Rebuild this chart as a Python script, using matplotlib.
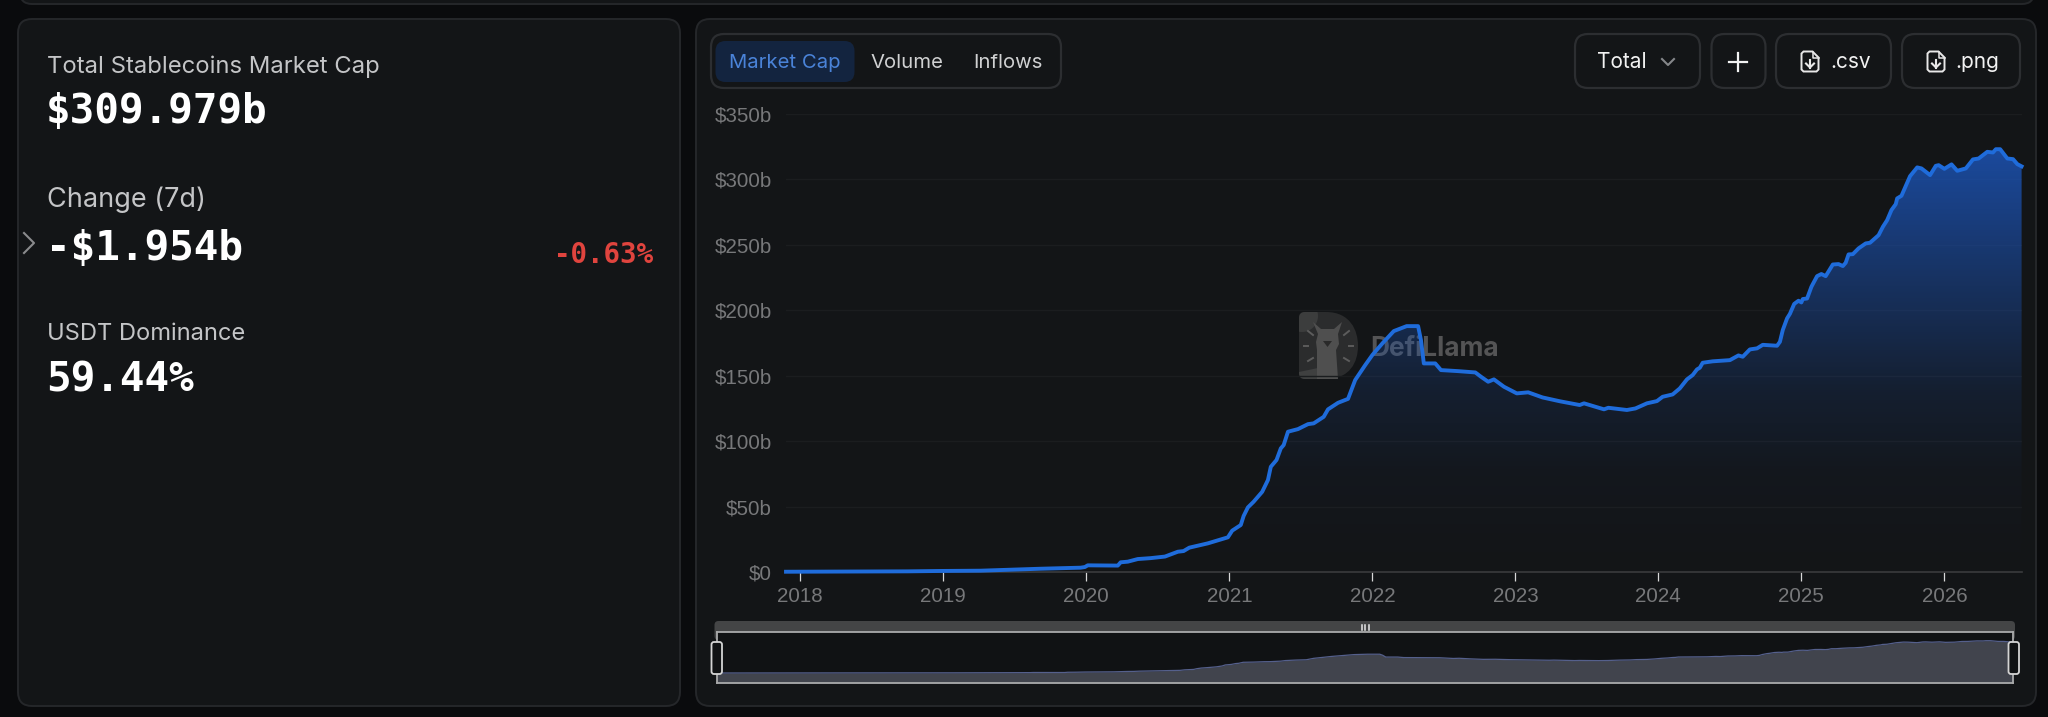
import numpy as np
import matplotlib
matplotlib.use("Agg")
import matplotlib.pyplot as plt
from matplotlib.patches import Circle, FancyBboxPatch, PathPatch, Polygon
from matplotlib.path import Path

# total stablecoin market cap (decimal year, $b)
years = [2017.90, 2018.75, 2018.99, 2019.26, 2019.49, 2019.68, 2019.96, 2019.99, 2020.01, 2020.22,
         2020.24, 2020.29, 2020.36, 2020.45, 2020.55, 2020.64, 2020.68, 2020.72, 2020.85, 2020.92,
         2020.99, 2021.02, 2021.08, 2021.10, 2021.13, 2021.17, 2021.23, 2021.27, 2021.29, 2021.33,
         2021.36, 2021.38, 2021.41, 2021.48, 2021.55, 2021.59, 2021.66, 2021.69, 2021.76, 2021.83,
         2021.88, 2021.95, 2022.00, 2022.07, 2022.15, 2022.24, 2022.32, 2022.34, 2022.36, 2022.44,
         2022.48, 2022.60, 2022.72, 2022.76, 2022.81, 2022.85, 2022.92, 2023.01, 2023.09, 2023.19,
         2023.31, 2023.45, 2023.48, 2023.62, 2023.65, 2023.78, 2023.84, 2023.92, 2023.99, 2024.03,
         2024.10, 2024.15, 2024.20, 2024.24, 2024.27, 2024.29, 2024.31, 2024.38, 2024.50, 2024.56,
         2024.59, 2024.64, 2024.69, 2024.73, 2024.83, 2024.85, 2024.87, 2024.90, 2024.92, 2024.95,
         2024.98, 2025.00, 2025.01, 2025.04, 2025.07, 2025.08, 2025.11, 2025.14, 2025.17, 2025.22,
         2025.26, 2025.29, 2025.31, 2025.33, 2025.36, 2025.40, 2025.45, 2025.48, 2025.54, 2025.57,
         2025.60, 2025.63, 2025.66, 2025.67, 2025.70, 2025.76, 2025.81, 2025.84, 2025.90, 2025.94,
         2025.96, 2026.00, 2026.05, 2026.09, 2026.15, 2026.20, 2026.24, 2026.30, 2026.34, 2026.36,
         2026.39, 2026.44, 2026.48, 2026.51, 2026.54]
mcap = [0.2, 0.5, 0.8, 1.0, 1.8, 2.5, 3.3, 3.8, 5.1, 4.9,
        7.4, 7.9, 9.9, 10.6, 11.8, 15.5, 16.0, 18.6, 21.9, 24.2,
        26.5, 31.6, 35.9, 42.8, 49.4, 53.7, 61.3, 70.3, 80.4, 85.6,
        94.5, 97.0, 107.2, 109.2, 113.0, 113.6, 118.6, 124.3, 129.3, 132.3,
        146.7, 158.1, 165.8, 174.7, 184.1, 187.9, 187.9, 177.2, 159.4, 159.4,
        154.3, 153.5, 152.5, 149.2, 145.4, 147.2, 141.6, 136.5, 137.3, 133.4,
        130.5, 127.6, 128.9, 124.3, 125.5, 123.8, 125.0, 128.9, 130.6, 133.9,
        135.7, 140.3, 147.2, 150.5, 154.8, 156.1, 159.9, 161.0, 161.9, 165.5,
        164.5, 170.1, 170.9, 173.6, 172.9, 175.9, 184.9, 193.8, 197.3, 204.9,
        207.3, 206.0, 208.6, 209.0, 217.9, 220.0, 226.1, 227.7, 226.1, 235.0,
        235.3, 233.8, 236.3, 242.7, 242.9, 247.3, 251.1, 251.6, 257.4, 263.8,
        268.9, 276.6, 281.1, 285.5, 287.5, 302.5, 309.2, 308.4, 303.3, 310.4,
        310.9, 308.1, 311.5, 306.6, 308.4, 315.3, 316.0, 321.1, 320.6, 323.1,
        323.1, 316.0, 315.5, 311.7, 309.979]

y_ticks = [0, 50, 100, 150, 200, 250, 300, 350]
y_labels = ["$0", "$50b", "$100b", "$150b", "$200b", "$250b", "$300b", "$350b"]
x_ticks = [2018, 2019, 2020, 2021, 2022, 2023, 2024, 2025, 2026]
x_labels = ["2018", "2019", "2020", "2021", "2022", "2023", "2024", "2025", "2026"]

W, H = 2048, 717
BG = "#0a0b0d"
PANEL = "#131517"
EDGE = "#25272a"
BLUE = "#1f6cdb"
UI = "Inter"
MONO = "DejaVu Sans Mono"
TICK = "Liberation Sans"


def rect_axes(x0, y0, x1, y1, **kw):
    # axes placed by pixel box, y measured from the top of the picture
    return fig.add_axes([x0 / W, 1 - y1 / H, (x1 - x0) / W, (y1 - y0) / H], **kw)


def box(x0, y0, x1, y1, r, fc="none", ec=EDGE, lw=1.4, z=2):
    p = FancyBboxPatch((x0 + r, y0 + r), x1 - x0 - 2 * r, y1 - y0 - 2 * r,
                       boxstyle=f"round,pad={r},rounding_size={r}",
                       fc=fc, ec=ec, lw=lw, zorder=z)
    back.add_patch(p)


def file_icon(cx):
    # little page with a down arrow, for the export buttons
    l, r, t, b = cx - 8.5, cx + 8.5, 51.5, 71.5
    verts = [(l + 2, t), (r - 6, t), (r, t + 6), (r, b - 2), (r - 2, b), (l + 2, b), (l, b - 2), (l, t + 2), (l + 2, t)]
    back.add_patch(Polygon(verts, closed=True, fc="none", ec="#e8e8e8", lw=1.4, zorder=3))
    back.plot([r - 6, r - 6, r], [t, t + 6, t + 6], color="#e8e8e8", lw=1.1, zorder=3)
    back.plot([cx, cx], [t + 8, b - 4], color="#e8e8e8", lw=1.5, zorder=3)
    back.plot([cx - 4, cx, cx + 4], [b - 8, b - 4, b - 8], color="#e8e8e8", lw=1.5, zorder=3)


fig = plt.figure(figsize=(W / 100, H / 100), dpi=100, facecolor=BG)

# page furniture lives in a full-figure axes measured in pixels
back = fig.add_axes([0, 0, 1, 1], zorder=0)
back.set_xlim(0, W)
back.set_ylim(H, 0)
back.axis("off")

box(20, -30, 2034, 4, 12, fc=PANEL)
box(18, 19, 680, 706, 14, fc=PANEL)
box(696, 19, 2036, 706, 14, fc=PANEL)

# left panel
label_col = "#c4c5c7"
back.text(47, 73, "Total Stablecoins Market Cap", family=UI, fontsize=17.15, color=label_col, va="baseline")
back.text(46, 123, "$309.979b", family=MONO, weight="bold", fontsize=29.5, color="white", va="baseline")
back.text(47, 207, "Change (7d)", family=UI, fontsize=19.5, color=label_col, va="baseline")
back.text(46, 260, "-$1.954b", family=MONO, weight="bold", fontsize=29.5, color="white", va="baseline")
back.text(653, 263, "-0.63%", family=MONO, weight="bold", fontsize=19.8, color="#e0443e", va="baseline", ha="right")
back.text(47, 340, "USDT Dominance", family=UI, fontsize=17.05, color=label_col, va="baseline")
back.text(46, 391, "59.44%", family=MONO, weight="bold", fontsize=29.5, color="white", va="baseline")
back.plot([24, 34, 24], [233, 243, 253], color="#8a8b8d", lw=1.5, zorder=3)

# tab group
box(711, 34, 1061, 88, 13, fc=PANEL, ec="#2c2e31", lw=1.6)
box(715.5, 41, 854.5, 82, 10, fc="#13243f", ec="none", lw=0)
back.text(785, 68, "Market Cap", family=UI, fontsize=14.6, color="#4a83d8", ha="center", va="baseline", zorder=4)
back.text(907, 68, "Volume", family=UI, fontsize=14.6, color="#d0d1d2", ha="center", va="baseline", zorder=4)
back.text(1008, 68, "Inflows", family=UI, fontsize=14.6, color="#d0d1d2", ha="center", va="baseline", zorder=4)

# buttons on the right
box(1575, 34, 1700, 88, 13, fc=PANEL, ec="#2c2e31", lw=1.6)
box(1711.5, 34, 1765.5, 88, 13, fc=PANEL, ec="#2c2e31", lw=1.6)
box(1776, 34, 1891, 88, 13, fc=PANEL, ec="#2c2e31", lw=1.6)
box(1902, 34, 2020, 88, 13, fc=PANEL, ec="#2c2e31", lw=1.6)
back.text(1597, 68, "Total", family=UI, fontsize=15, color="#f2f2f2", va="baseline", zorder=4)
back.plot([1662, 1668, 1674], [59, 65, 59], color="#85878a", lw=1.5, zorder=4)
back.plot([1729, 1747], [61.5, 61.5], color="#f2f2f2", lw=1.6, zorder=4)
back.plot([1738, 1738], [52.5, 70.5], color="#f2f2f2", lw=1.6, zorder=4)
file_icon(1810)
back.text(1830, 68, ".csv", family=UI, fontsize=15, color="#f2f2f2", va="baseline", zorder=4)
file_icon(1936)
back.text(1955, 68, ".png", family=UI, fontsize=15, color="#f2f2f2", va="baseline", zorder=4)

# watermark sits under the chart
d_shape = PathPatch(Path([(1305, 312), (1326, 312), (1350, 312), (1358, 330), (1358, 346), (1358, 362), (1350, 379),
                          (1326, 379), (1305, 379), (1299, 379), (1299, 373), (1299, 318), (1299, 312), (1305, 312)],
                         [Path.MOVETO, Path.LINETO, Path.CURVE4, Path.CURVE4, Path.CURVE4, Path.CURVE4, Path.CURVE4,
                          Path.CURVE4, Path.LINETO, Path.CURVE3, Path.CURVE3, Path.LINETO, Path.CURVE3, Path.CURVE3]),
                    fc="#2b2c2d", ec="none", zorder=2)
back.add_patch(d_shape)
corner = Circle((1302, 316), 16, fc="#3c3d3d", ec="none", zorder=2)
back.add_patch(corner)
corner.set_clip_path(d_shape)
band = Polygon([(1299, 372), (1318, 368), (1340, 379), (1299, 380)], closed=True, fc="#3f4040", ec="none", zorder=2)
back.add_patch(band)
band.set_clip_path(d_shape)
llama = [(1313, 322), (1321, 329), (1334, 329), (1342, 322), (1338, 334), (1339, 344), (1336, 350),
         (1338, 379), (1317, 379), (1317, 350), (1316, 342), (1318, 334)]
back.add_patch(Polygon(llama, closed=True, fc="#4f4f4f", ec="none", zorder=2))
back.add_patch(Polygon([(1323, 341), (1332, 341), (1327.5, 347)], closed=True, fc="#2a2a2a", ec="none", zorder=2))
for a, b in [((1308, 331), (1313, 335)), ((1349, 331), (1344, 335)), ((1304, 346), (1308, 346)),
             ((1349, 346), (1353, 346)), ((1308, 361), (1313, 358)), ((1349, 361), (1344, 358))]:
    back.plot([a[0], b[0]], [a[1], b[1]], color="#5c5c5c", lw=1.4, zorder=2)
back.text(1370, 356, "DefiLlama", family="Inter", weight="bold", fontsize=18.9, color="#545455", va="baseline", zorder=2)

# main chart
ax = rect_axes(786, 114, 2021.6, 572, zorder=1)
ax.patch.set_visible(False)
area = ax.fill_between(years, mcap, 0, color="none", lw=0)
ramp = np.zeros((256, 1, 4))
ramp[:, 0, 0] = 0.11
ramp[:, 0, 1] = 0.33
ramp[:, 0, 2] = 0.72
ramp[:, 0, 3] = np.interp(np.linspace(0, 1, 256), [0, 0.33, 0.57, 0.77, 1], [0.84, 0.44, 0.16, 0.04, 0])
grad = ax.imshow(ramp, extent=[years[0], years[-1], 0, max(mcap)], aspect="auto", origin="upper", zorder=2)
grad.set_clip_path(area.get_paths()[0], transform=ax.transData)
ax.plot(years, mcap, color=BLUE, lw=2.8, zorder=3, clip_on=False, solid_joinstyle="round")
ax.set_xlim(2017.90, 2026.54)
ax.set_ylim(0, 350)
ax.set_yticks(y_ticks, y_labels)
ax.set_xticks(x_ticks, x_labels)
ax.grid(axis="y", color="#1b1d1f", lw=1)
ax.set_axisbelow(True)
for s in ["top", "right", "left"]:
    ax.spines[s].set_visible(False)
ax.spines["bottom"].set_color("#3a3b3d")
ax.spines["bottom"].set_linewidth(1.2)
ax.tick_params(axis="y", length=0, pad=10, labelsize=14.8, labelcolor="#77787a")
ax.tick_params(axis="x", length=6.5, width=0.9, color="#d8d8d8", pad=4, labelsize=14.8, labelcolor="#77787a")
for t in ax.get_xticklabels() + ax.get_yticklabels():
    t.set_family(TICK)

# range slider under the chart
box(714.5, 621, 2015, 640, 4, fc="#444546", ec="none", lw=0)
back.add_patch(plt.Rectangle((716.5, 632), 1296.5, 51, fc="#101214", ec="none", zorder=2))
for gx in [1361.5, 1365, 1368.5]:
    back.plot([gx, gx], [624.5, 630], color="#e8e8e8", lw=1.1, zorder=3)

mini = rect_axes(716.5, 632, 2013, 683, zorder=1)
mini.patch.set_visible(False)
mini.fill_between(years, mcap, -100, color="#41444d", lw=0)
mini.plot(years, mcap, color="#55608c", lw=0.9)
mini.set_xlim(2017.90, 2026.54)
mini.set_ylim(-100, 410)
mini.set_xticks([])
mini.set_yticks([])
for s in mini.spines.values():
    s.set_color("#a9aaab")
    s.set_linewidth(1.3)

handles = rect_axes(0, 0, W, H, zorder=2)
handles.set_xlim(0, W)
handles.set_ylim(H, 0)
handles.axis("off")
for x0 in [711.5, 2008.5]:
    handles.add_patch(FancyBboxPatch((x0 + 2, 644), 6.5, 28, boxstyle="round,pad=2,rounding_size=2.5",
                                     fc="#101214", ec="#d4d4d4", lw=1.3))

fig.savefig("out.png", dpi=100, facecolor=BG)
